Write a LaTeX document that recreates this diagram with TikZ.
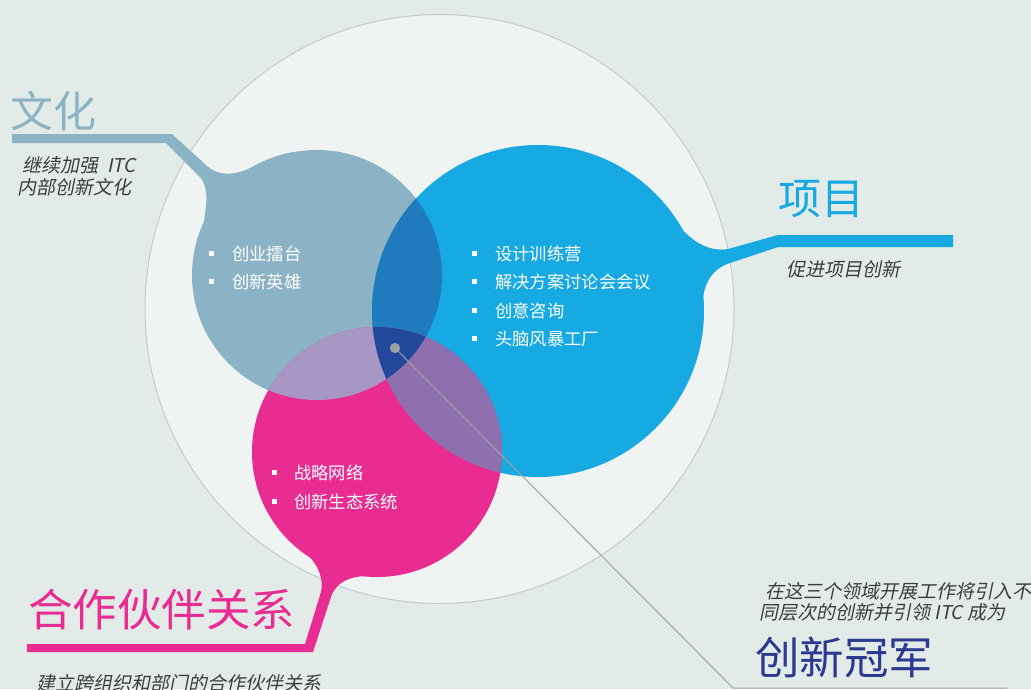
\documentclass[tikz,border=0pt]{standalone}
\usepackage{fontspec}
\newfontfamily\cjk{Noto Sans CJK SC}
\newfontfamily\cjkit[FakeSlant=0.2]{Noto Sans CJK SC}
\definecolor{bg}{RGB}{227,235,232}
\definecolor{innerbg}{RGB}{239,243,242}
\definecolor{ring}{RGB}{200,202,202}
\definecolor{cult}{RGB}{140,179,197}
\definecolor{proj}{RGB}{23,169,225}
\definecolor{part}{RGB}{233,44,145}
\definecolor{cp}{RGB}{31,122,190}
\definecolor{ck}{RGB}{168,150,197}
\definecolor{pk}{RGB}{142,111,176}
\definecolor{cpk}{RGB}{34,72,155}
\definecolor{notecol}{RGB}{60,60,60}
\definecolor{champ}{RGB}{43,57,144}
\definecolor{pointer}{RGB}{160,160,160}
\tikzset{
  titletext/.style={font=\cjk\fontsize{43}{43}\selectfont, inner sep=0pt, anchor=west},
  notetext/.style={font=\cjkit\fontsize{19}{19}\selectfont, text=notecol, inner sep=0pt, anchor=west},
  itemtext/.style={font=\cjk\fontsize{17.3}{17.3}\selectfont, text=white, inner sep=0pt, anchor=west},
  bulletbox/.style={fill=white, draw=none, minimum size=5pt, inner sep=0pt},
}
\begin{document}
\begin{tikzpicture}[x=1pt,y=-1pt]
\useasboundingbox (0,0) rectangle (1031,689);
\fill[bg] (0,0) rectangle (1031,689);
% big ring
\filldraw[fill=innerbg, draw=ring, line width=1pt] (439.5,309) circle[radius=294.5];
% centres
\coordinate (C) at (317,275);
\coordinate (P) at (538,311);
\coordinate (K) at (377,452);
% tails
\fill[cult] (12,134) -- (172,134) -- (207,166)
  .. controls (218,176) and (235,176) .. (252,167)
  .. controls (268,158) and (285,152) .. (305,151)
  -- (C) -- (204,222)
  .. controls (206,205) and (210,187) .. (199,176)
  -- (166,143) -- (12,143) -- cycle;
\fill[proj] (953,235) -- (778,235) -- (728,249)
  .. controls (710,252) and (692,243) .. (676,222)
  -- (P) -- (702,305)
  .. controls (704,282) and (712,268) .. (733,262)
  -- (778,247) -- (953,247) -- cycle;
\fill[part] (27,644) -- (305,644) -- (321,592)
  .. controls (324,578) and (318,562) .. (300,548)
  -- (K) -- (368,576)
  .. controls (350,576) and (336,582) .. (331,597)
  -- (313,652) -- (27,652) -- cycle;
% circles
\fill[cult] (C) circle[radius=125];
\fill[proj] (P) circle[radius=166];
\fill[part] (K) circle[radius=125];
\begin{scope}
  \clip (C) circle[radius=125];
  \fill[cp] (P) circle[radius=166];
  \fill[ck] (K) circle[radius=125];
  \clip (P) circle[radius=166];
  \fill[cpk] (K) circle[radius=125];
\end{scope}
\begin{scope}
  \clip (P) circle[radius=166];
  \clip (K) circle[radius=125];
  \fill[pk] (K) circle[radius=125];
  \clip (C) circle[radius=125];
  \fill[cpk] (K) circle[radius=125];
\end{scope}
% titles
\node[titletext, text=cult] (tcult) at (10,111) {文化};
\node[titletext, text=proj] (tproj) at (778,199) {项目};
\node[titletext, text=part, font=\cjk\fontsize{44.5}{44.5}\selectfont] (tpart) at (28,610) {合作伙伴关系};
\node[titletext, text=champ, font=\cjk\fontsize{44.5}{44.5}\selectfont] (tchamp) at (755,657) {创新冠军};
% notes
\node[notetext] (n1) at (22,165) {继续加强\hspace{9pt}ITC};
\node[notetext] (n2) at (17,187) {内部创新文化};
\node[notetext] (n3) at (786,269) {促进项目创新};
\node[notetext] (n4) at (36,683) {建立跨组织和部门的合作伙伴关系};
\node[notetext] (n5) at (765,591) {在这三个领域开展工作将引入不};
\node[notetext] (n6) at (759,612) {同层次的创新并引领 ITC 成为};
% bullets and items
\node[bulletbox] (bc1) at (211,253) {};
\node[bulletbox] (bc2) at (211,281) {};
\node[itemtext] (ic1) at (232,254) {创业擂台};
\node[itemtext] (ic2) at (232,282) {创新英雄};
\node[bulletbox] (bp1) at (474,253) {};
\node[bulletbox] (bp2) at (474,281) {};
\node[bulletbox] (bp3) at (474,310) {};
\node[bulletbox] (bp4) at (474,338) {};
\node[itemtext] (ip1) at (495,254) {设计训练营};
\node[itemtext] (ip2) at (495,282) {解决方案讨论会会议};
\node[itemtext] (ip3) at (495,311) {创意咨询};
\node[itemtext] (ip4) at (495,339) {头脑风暴工厂};
\node[bulletbox] (bk1) at (274,472) {};
\node[bulletbox] (bk2) at (274,501) {};
\node[itemtext] (ik1) at (294,473) {战略网络};
\node[itemtext] (ik2) at (294,502) {创新生态系统};
% pointer
\node[circle, fill=pointer, minimum size=10pt, inner sep=0pt] (dot) at (395,348) {};
\coordinate (bend) at (733,688);
\coordinate (tip) at (1007,688);
\draw[pointer, line width=1pt] (dot.center) -- (bend) -- (tip);
\fill[pointer] (dot) circle[radius=5];
\end{tikzpicture}
\end{document}
